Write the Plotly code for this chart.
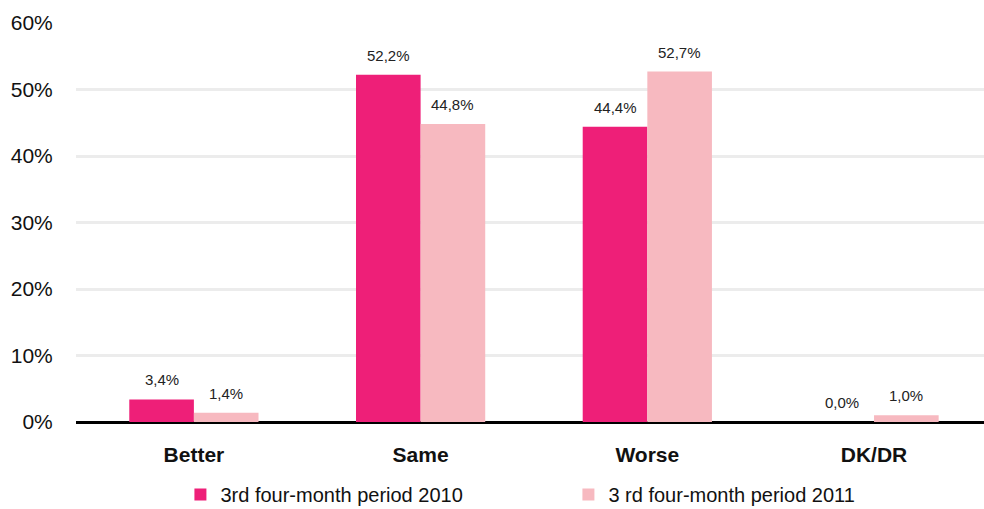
import plotly.graph_objects as go

categories = ["Better", "Same", "Worse", "DK/DR"]
series_2010 = [3.4, 52.2, 44.4, 0.0]
series_2011 = [1.4, 44.8, 52.7, 1.0]
name_2010 = "3rd four-month period 2010"
name_2011 = "3 rd four-month period 2011"
y_ticks = [0, 10, 20, 30, 40, 50, 60]
y_tick_text = [f"{t}%" for t in y_ticks]

FONT = "Liberation Sans, Arial, sans-serif"
BARGAP = 0.43
COLORS = ["#EE1F78", "#F7B9C0"]


def pct_label(v):
    return f"{v:.1f}%".replace(".", ",")


fig = go.Figure()
for name, values, color in [(name_2010, series_2010, COLORS[0]),
                            (name_2011, series_2011, COLORS[1])]:
    fig.add_trace(go.Bar(
        x=categories, y=values, name=name,
        marker=dict(color=color, line=dict(width=0)),
    ))

# value labels sit a little above each bar, centred on it
half = (1 - BARGAP) / 4
annotations = []
for offset, values in [(-half, series_2010), (half, series_2011)]:
    for i, v in enumerate(values):
        annotations.append(dict(
            x=i + offset, y=v, xref="x", yref="y",
            text=pct_label(v), showarrow=False,
            xanchor="center", yanchor="bottom", yshift=9,
            font=dict(size=15, color="#222222", family=FONT),
        ))

fig.update_layout(
    width=984, height=509,
    margin=dict(l=76, r=0, t=23, b=87, autoexpand=False),
    paper_bgcolor="white", plot_bgcolor="white",
    font=dict(family=FONT, color="#111111", size=20),
    barmode="group", bargap=BARGAP, bargroupgap=0,
    showlegend=True,
    annotations=annotations,
    legend=dict(
        orientation="h", x=0.115, xanchor="left", y=-0.182, yanchor="middle",
        font=dict(size=20, color="#111111"),
        entrywidth=343, entrywidthmode="pixels",
        itemsizing="constant", traceorder="normal",
    ),
    xaxis=dict(
        range=[-0.52, 3.485],
        showgrid=False, showline=False, zeroline=False,
        ticks="outside", ticklen=14, tickcolor="rgba(0,0,0,0)",
        tickfont=dict(size=21, family=FONT, color="#111111", weight="bold"),
    ),
    yaxis=dict(
        range=[0, 60], tickvals=y_ticks, ticktext=y_tick_text,
        showgrid=True, gridcolor="#ececec", gridwidth=3,
        zeroline=True, zerolinecolor="#000000", zerolinewidth=3,
        showline=False,
        ticks="outside", ticklen=18, tickcolor="rgba(0,0,0,0)",
        tickfont=dict(size=21, family=FONT, color="#111111"),
    ),
)

fig.write_html("out.html")
